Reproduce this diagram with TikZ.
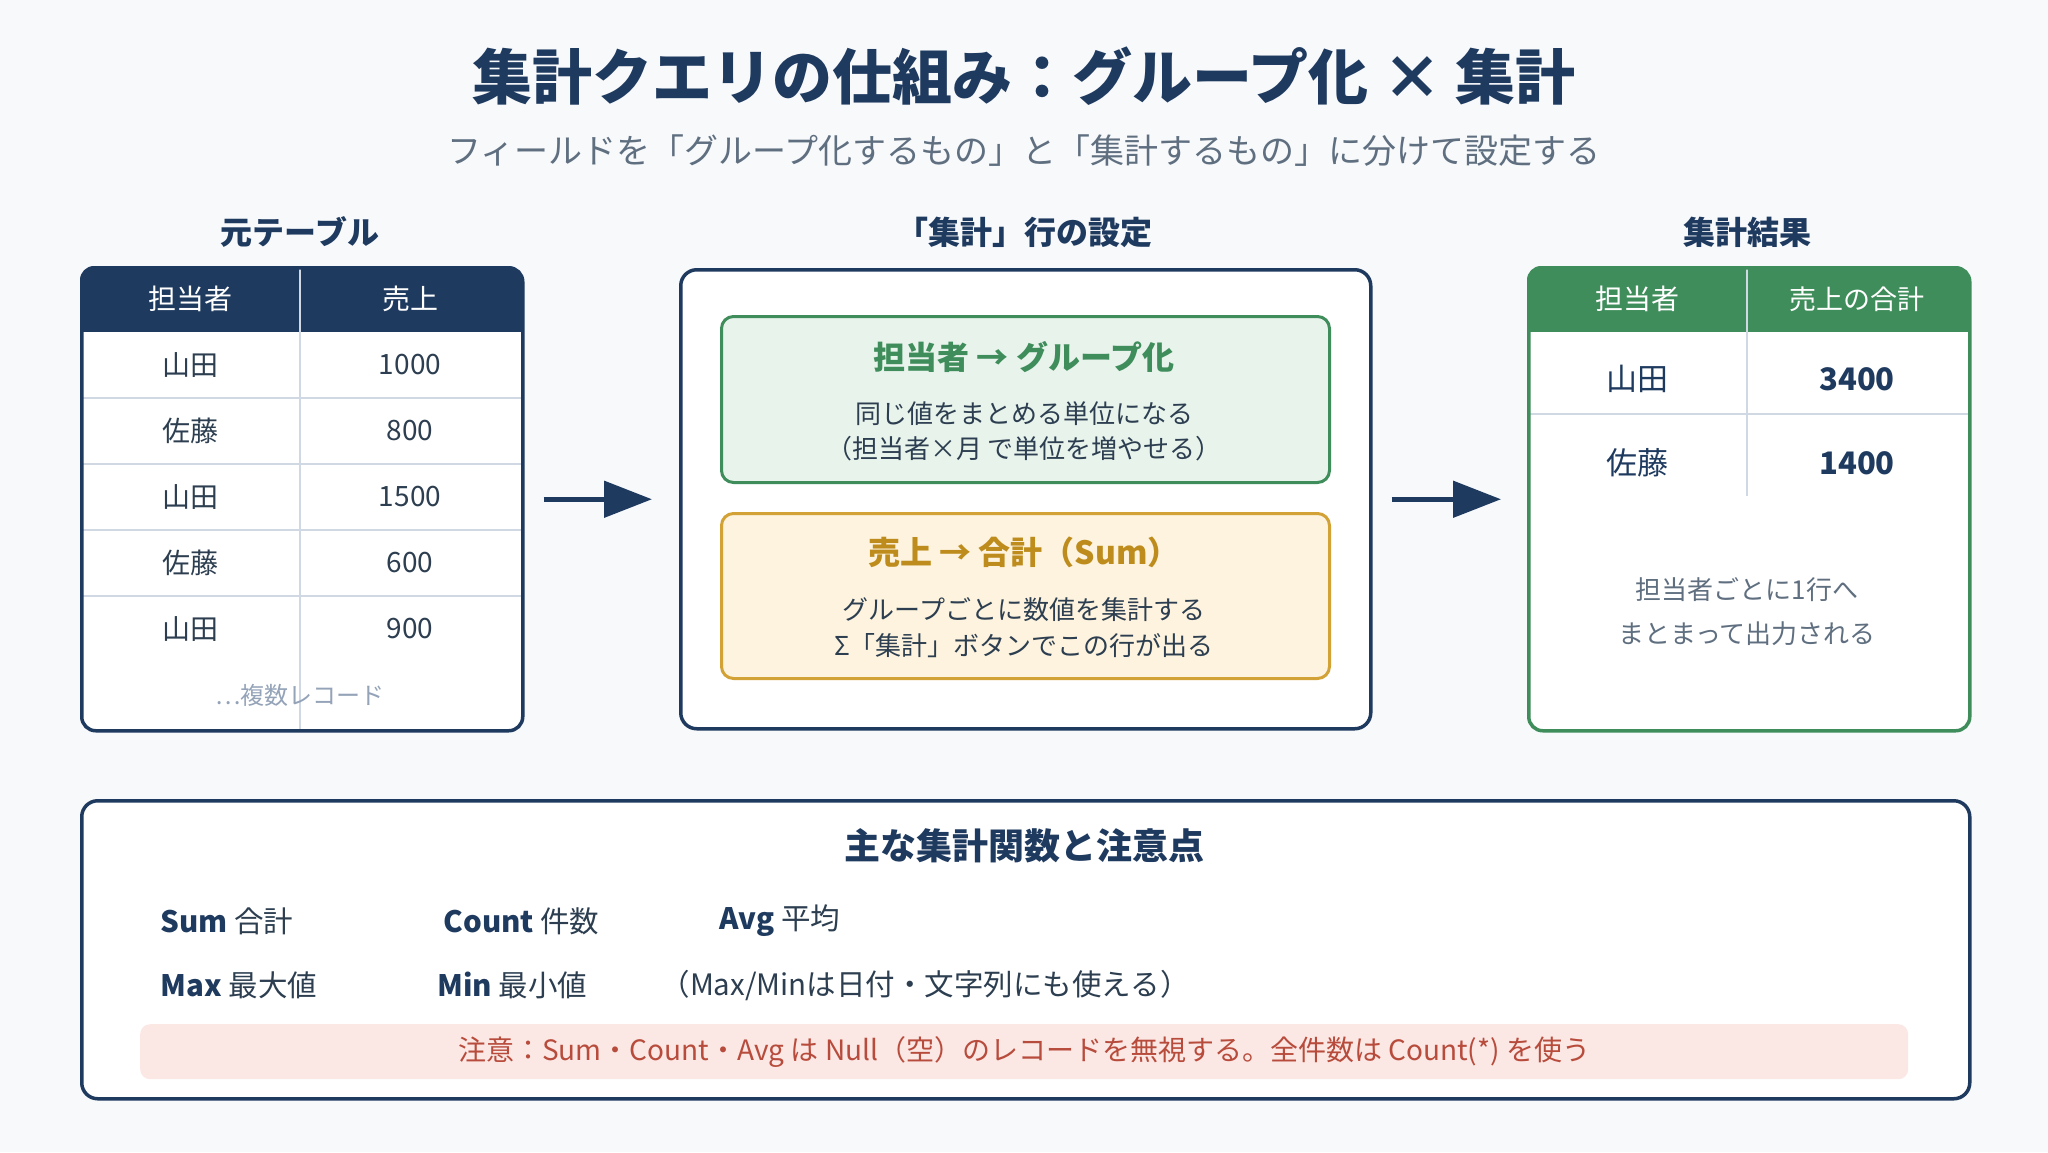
\documentclass[tikz,border=0pt]{standalone}
\usepackage{fontspec}
\setmainfont{Noto Sans CJK JP}
\usetikzlibrary{arrows.meta}
\definecolor{bgc}{HTML}{F7F9FB}
\definecolor{navy}{HTML}{1F3A5F}
\definecolor{txt}{HTML}{2C3E50}
\definecolor{subgray}{HTML}{5F6F80}
\definecolor{muted}{HTML}{94A3B8}
\definecolor{gridc}{HTML}{CFD8E3}
\definecolor{grn}{HTML}{3F8D5B}
\definecolor{grnfill}{HTML}{E8F3EC}
\definecolor{gold}{HTML}{D2A236}
\definecolor{goldtxt}{HTML}{BE8C1C}
\definecolor{goldfill}{HTML}{FDF3DE}
\definecolor{pinkfill}{HTML}{FBE7E4}
\definecolor{redtxt}{HTML}{B84C3C}
\newcommand{\fsz}[1]{\fontsize{#1}{#1}\selectfont}
\begin{document}
\begin{tikzpicture}[x=1pt,y=-1pt,
  sechead/.style={font=\fsz{32}\bfseries, text=navy},
  hcell/.style={font=\fsz{28}, text=white},
  cell/.style={font=\fsz{28}, text=txt},
  bigcell/.style={font=\fsz{31}, text=navy},
  gridline/.style={draw=gridc, line width=2pt},
  frame/.style={line width=3.5pt, anchor=north west, inner sep=0pt},
  arr/.style={draw=navy, line width=5pt, -{Triangle[length=48pt,width=36pt]}},
  body/.style={font=\fsz{26}, text=txt},
  fn/.style={font=\fsz{29.5}, text=txt, anchor=west}
]
\fill[bgc] (0,0) rectangle (2048,1152);
\useasboundingbox (0,0) rectangle (2048,1152);

% titles
\node[font=\fsz{60}\bfseries, text=navy] (title) at (1024,76) {集計クエリの仕組み：グループ化 × 集計};
\node[font=\fsz{34}, text=subgray] (subtitle) at (1024,151) {フィールドを「グループ化するもの」と「集計するもの」に分けて設定する};

\node[sechead] (h1) at (300,232) {元テーブル};
\node[sechead] (h2) at (1024,232) {「集計」行の設定};
\node[sechead] (h3) at (1747,232) {集計結果};

% left table
\begin{scope}
\clip[rounded corners=14pt] (80,266) rectangle (521,729);
\fill[white] (80,266) rectangle (521,729);
\fill[navy] (80,266) rectangle (521,332);
\end{scope}
\foreach \yy in {398,464,530,596} \draw[gridline] (80,\yy) -- (521,\yy);
\draw[gridline] (300,266) -- (300,729);
\node[frame, draw=navy, rounded corners=14pt, minimum width=441pt, minimum height=463pt] (lt) at (80,266) {};
\node[hcell] (lth1) at (190,299) {担当者};
\node[hcell] (lth2) at (410,299) {売上};
\node[cell] (la1) at (190,365) {山田};   \node[cell] (lb1) at (410,365) {1000};
\node[cell] (la2) at (190,431) {佐藤};   \node[cell] (lb2) at (410,431) {800};
\node[cell] (la3) at (190,497) {山田};   \node[cell] (lb3) at (410,497) {1500};
\node[cell] (la4) at (190,563) {佐藤};   \node[cell] (lb4) at (410,563) {600};
\node[cell] (la5) at (190,629) {山田};   \node[cell] (lb5) at (410,629) {900};
\node[font=\fsz{24}, text=muted] (lmore) at (300,695) {…複数レコード};

% middle box
\node[frame, draw=navy, fill=white, rounded corners=16pt, minimum width=690pt, minimum height=459pt] (mid) at (679,268) {};
\node[frame, draw=grn, fill=grnfill, line width=3pt, rounded corners=12pt, minimum width=608pt, minimum height=166pt] (gbox) at (720,315) {};
\node[font=\fsz{32}\bfseries, text=grn] (gt) at (1024,357) {担当者 → グループ化};
\node[body] (gl1) at (1024,414) {同じ値をまとめる単位になる};
\node[body] (gl2) at (1024,449) {（担当者×月 で単位を増やせる）};
\node[frame, draw=gold, fill=goldfill, line width=3pt, rounded corners=12pt, minimum width=608pt, minimum height=165pt] (ybox) at (720,512) {};
\node[font=\fsz{32}\bfseries, text=goldtxt] (yt) at (1024,552) {売上 → 合計（Sum）};
\node[body] (yl1) at (1024,610) {グループごとに数値を集計する};
\node[body] (yl2) at (1024,646) {Σ「集計」ボタンでこの行が出る};

% right table
\begin{scope}
\clip[rounded corners=14pt] (1527,266) rectangle (1968,729);
\fill[white] (1527,266) rectangle (1968,729);
\fill[grn] (1527,266) rectangle (1968,332);
\end{scope}
\draw[gridline] (1527,414) -- (1968,414);
\draw[gridline] (1747,266) -- (1747,496);
\node[frame, draw=grn, rounded corners=14pt, minimum width=441pt, minimum height=463pt] (rt) at (1527,266) {};
\node[hcell] (rth1) at (1637,299) {担当者};
\node[hcell, font=\fsz{27}] (rth2) at (1857,299) {売上の合計};
\node[bigcell] (ra1) at (1637,379) {山田};
\node[bigcell, font=\fsz{31}\bfseries] (rb1) at (1857,379) {3400};
\node[bigcell] (ra2) at (1637,463) {佐藤};
\node[bigcell, font=\fsz{31}\bfseries] (rb2) at (1857,463) {1400};
\node[body, text=subgray] (rn1) at (1747,590) {担当者ごとに1行へ};
\node[body, text=subgray] (rn2) at (1747,634) {まとまって出力される};

% arrows
\draw[arr] ([xshift=19pt]lt.east) -- ([xshift=-27pt]mid.west);
\draw[arr] ([xshift=19pt]mid.east) -- ([xshift=-26pt]rt.west);

% bottom box
\node[frame, draw=navy, fill=white, rounded corners=16pt, minimum width=1888pt, minimum height=298pt] (bot) at (80,799) {};
\node[font=\fsz{36}\bfseries, text=navy] (bt) at (1024,846) {主な集計関数と注意点};
\node[fn] (f1) at (157,921) {{\bfseries\color{navy}Sum} 合計};
\node[fn] (f2) at (440,921) {{\bfseries\color{navy}Count} 件数};
\node[fn] (f3) at (716,921) {{\bfseries\color{navy}Avg} 平均};
\node[fn] (f4) at (157,985) {{\bfseries\color{navy}Max} 最大値};
\node[fn] (f5) at (434,985) {{\bfseries\color{navy}Min} 最小値};
\node[fn] (f6) at (657,985) {（Max/Minは日付・文字列にも使える）};
\node[anchor=north west, inner sep=0pt, fill=pinkfill, rounded corners=10pt, minimum width=1768pt, minimum height=55pt] (note) at (140,1024) {};
\node[font=\fsz{28}, text=redtxt] (notet) at (note.center) {注意：Sum・Count・Avg は Null（空）のレコードを無視する。全件数は Count(*) を使う};
\end{tikzpicture}
\end{document}
